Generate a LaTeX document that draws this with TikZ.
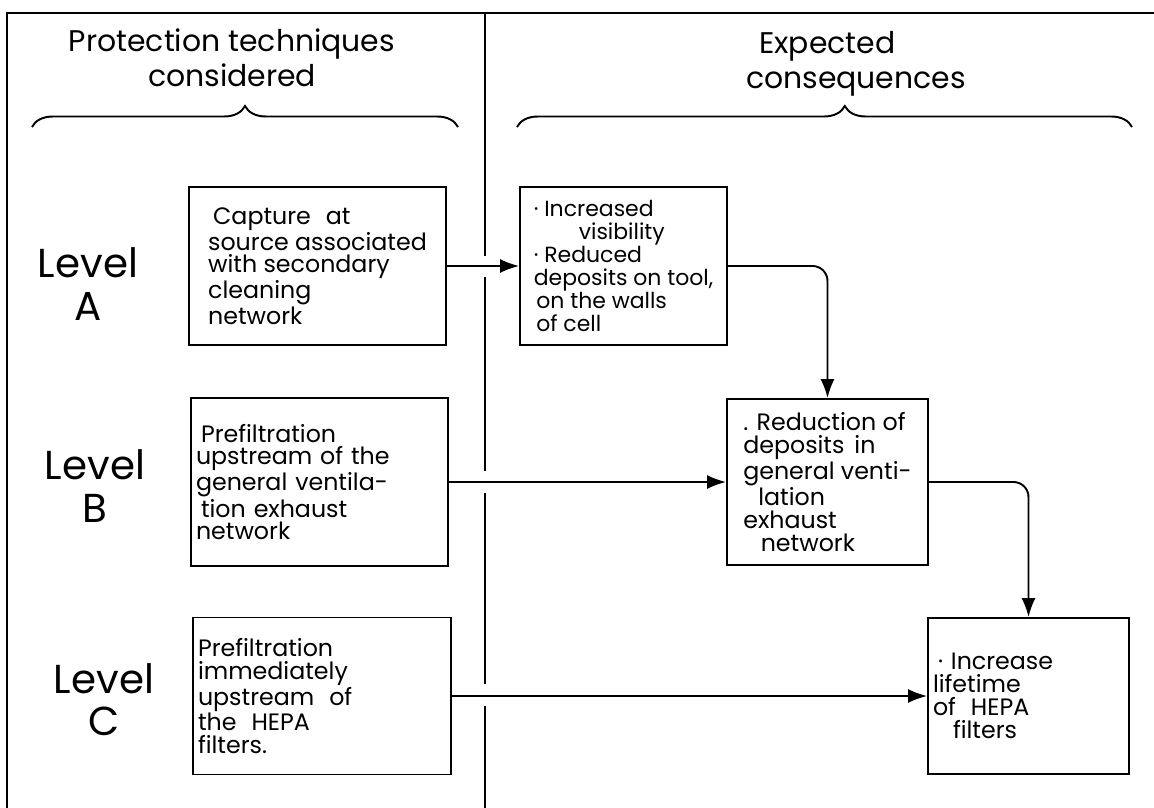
\documentclass[tikz,border=0pt]{standalone}
\usepackage{fontspec}
\setmainfont{Poppins}
\usetikzlibrary{arrows.meta, decorations.pathreplacing}

\begin{document}
\begin{tikzpicture}[
    x=0.02cm, y=-0.02cm,
    frame/.style={line width=1.1pt},
    box/.style={rectangle, draw, line width=1.1pt, align=left, inner sep=0.1cm, font=\fontsize{13.5}{13}\selectfont},
    head/.style={font=\fontsize{17}{20}\selectfont},
    lvl/.style={align=center, font=\fontsize{23}{24}\selectfont},
    curly/.style={line width=1.1pt, decorate, decoration={brace, amplitude=0.42cm}},
    arr/.style={-{Latex[length=3.8mm, width=2.8mm]}, line width=1.1pt}
]
\useasboundingbox (0,0) rectangle (1154,808);

\draw[frame] (7,808) |- (1154,13);
\foreach \ya/\yb in {13/256, 277/471, 493/684, 706/808}
  \draw[frame] (485,\ya) -- (485,\yb);

\node[head, align=center] (techhead) at (232,58) {Protection techniques\\considered};
\node[head, align=left, anchor=west] (conshead) at (740,64) {\hspace*{0.26cm}Expected\\consequences};
\draw[curly] (32,127) -- (458,127);
\draw[curly, decoration={aspect=0.533}] (517,127) -- (1132,127);

\node[lvl] (levA) at (88,284) {Level\\A};
\node[lvl] (levB) at (95,486) {Level\\B};
\node[lvl] (levC) at (104,700) {Level\\C};

\node[box, minimum width=5.14cm, minimum height=3.16cm] (capA) at (317.5,266)
  {\hspace*{0.1cm}Capture\hspace{0.3cm}at\\source associated\\with secondary\\cleaning\\network};
\node[box, text width=4.94cm, minimum height=3.36cm] (prefB) at (319.5,482)
  {\hspace*{0.1cm}Prefiltration\\upstream of the\\general ventila-\\\hspace*{0.1cm}tion exhaust\\network\\[0.3cm]};
\node[box, text width=4.96cm, minimum height=3.14cm] (prefC) at (322,696)
  {Prefiltration\\immediately\\upstream\hspace{0.3cm}of\\the\hspace{0.3cm}HEPA\\filters.};

\node[box, minimum width=4.14cm, minimum height=3.16cm, font=\fontsize{12.5}{13}\selectfont] (incr) at (623.5,266)
  {· Increased\\\hspace*{0.9cm}visibility\\· Reduced\\deposits on tool,\\\hspace*{0.05cm}on the walls\\\hspace*{0.05cm}of cell};
\node[box, minimum width=4.02cm, minimum height=3.32cm] (redu) at (827.5,482)
  {. Reduction of\\deposits\hspace{0.2cm}in\\general venti-\\\hspace*{0.3cm}lation\\exhaust\\\hspace*{0.35cm}network};
\node[box, text width=3.82cm, minimum height=3.12cm] (life) at (1028.5,696)
  {\hspace*{0.1cm}· Increase\\lifetime\\of\hspace{0.3cm}HEPA\\\hspace*{0.4cm}filters};

\draw[arr] (capA) -- (incr);
\draw[arr] (prefB) -- (redu);
\draw[arr] (prefC) -- (life);
\draw[arr, rounded corners=0.3cm] (incr.east) -| (redu.north);
\draw[arr, rounded corners=0.3cm] (redu.east) -| (life.north);

\end{tikzpicture}
\end{document}
